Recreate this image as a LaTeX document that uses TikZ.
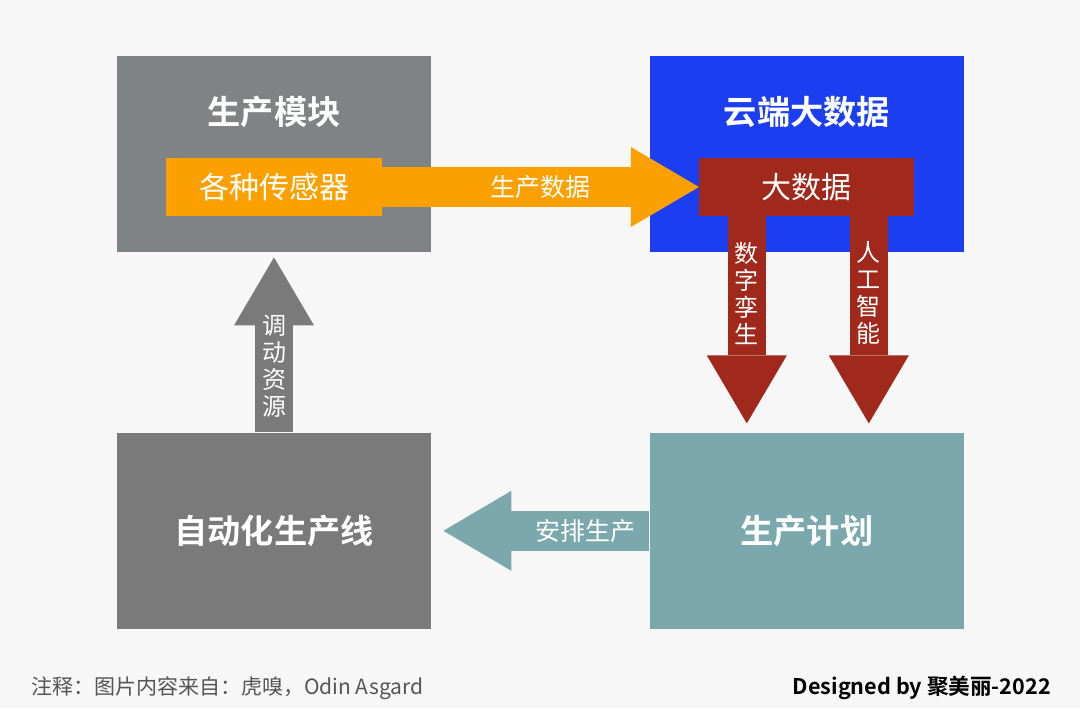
\documentclass[tikz,border=0pt]{standalone}
\usepackage{fontspec}
\setmainfont{Noto Sans CJK SC}[BoldFont={Noto Sans CJK SC Bold}]
\usetikzlibrary{arrows.meta, positioning, calc}
\definecolor{modgrey}{HTML}{7F8383}
\definecolor{linegrey}{HTML}{7A7A7A}
\definecolor{cloudblue}{HTML}{1B3FF0}
\definecolor{planteal}{HTML}{7AA8AD}
\definecolor{sensororange}{HTML}{FCA000}
\definecolor{datared}{HTML}{A0291B}
\definecolor{bggrey}{HTML}{F7F7F7}
\definecolor{footgrey}{HTML}{555555}

\begin{document}
\begin{tikzpicture}[x=0.5pt, y=-0.5pt, node distance=90pt and 109pt,
		block/.style={rectangle, minimum width=157pt, minimum height=98pt, inner sep=0pt, text=white, font=\fontsize{16.6}{19}\selectfont\bfseries},
		boxtitle/.style={text=white, font=\fontsize{16.6}{19}\selectfont\bfseries},
		bar/.style={rectangle, minimum height=29pt, inner sep=0pt, text=white, font=\fontsize{15}{18}\selectfont},
		fat/.style={line width=#1, -{Triangle[length=34pt, width=40pt, line width=0pt]}},
		arrowtext/.style={text=white, font=\fontsize{12.5}{15}\selectfont},
		vlabel/.style={text=white, align=center, inner sep=0pt, font=\fontsize{12}{13.5}\selectfont}]
			\fill[bggrey] (0,0) rectangle (1080,708);
			\useasboundingbox (0,0) rectangle (1080,708);
			
			\node[block, fill=modgrey] (module) at (274,154) {};
			\node[boxtitle] (modtitle) at ([yshift=-28pt]module.north) {生产模块};
			\node[block, fill=cloudblue, right=of module] (cloud) {};
			\node[boxtitle] (cloudtitle) at ([yshift=-28pt]cloud.north) {云端大数据};
			\node[block, fill=linegrey, below=of module] (line) {自动化生产线};
			\node[block, fill=planteal, below=of cloud] (plan) {生产计划};
			
			\node[bar, fill=sensororange, minimum width=108pt] (sensor) at ([yshift=-16.5pt]module.center) {各种传感器};
			\node[bar, fill=datared, minimum width=107.5pt] (bigdata) at ([yshift=-16.5pt]cloud.center) {大数据};
			
			\draw[fat=20pt, sensororange] (sensor.east) -- node[arrowtext] {生产数据} (bigdata.west);
			\draw[fat=19pt, datared] ([xshift=-30pt]bigdata.south) -- node[vlabel, pos=0.37] {数\\字\\孪\\生} ([xshift=-30pt, yshift=4.5pt]plan.north);
			\draw[fat=19pt, datared] ([xshift=31pt]bigdata.south) -- node[vlabel, pos=0.37] {人\\工\\智\\能} ([xshift=31pt, yshift=4.5pt]plan.north);
			\draw[fat=19pt, linegrey] (line.north) -- node[vlabel, pos=0.38] {调\\动\\资\\源} ([yshift=-2.5pt]module.south);
			\draw[fat=20pt, planteal] (plan.west) -- node[arrowtext, pos=0.31] {安排生产} ([xshift=6pt]line.east);
			
			\node[anchor=west, text=footgrey, font=\fontsize{10.5}{12}\selectfont] (note) at (24,688) {注释：图片内容来自：虎嗅，Odin Asgard};
			\node[anchor=east, font=\fontsize{10.8}{12}\selectfont\bfseries] (credit) at (1058,688) {Designed by 聚美丽-2022};
		\end{tikzpicture}
\end{document}
